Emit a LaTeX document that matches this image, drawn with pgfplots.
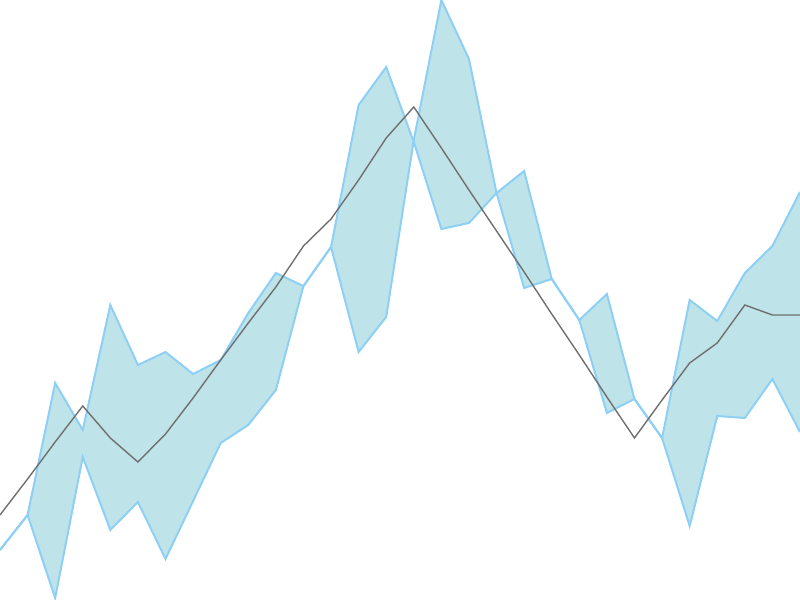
\documentclass[border=0pt]{standalone}
\usepackage{pgfplots}
\usepackage{pgfplotstable}
\pgfplotsset{compat=1.18}
\usepgfplotslibrary{fillbetween}

\definecolor{bandfill}{RGB}{190,228,233}
\definecolor{bandline}{RGB}{142,207,245}
\definecolor{midline}{RGB}{112,112,112}

% i, mid line, first band edge, second band edge
\pgfplotstableread{
i  mid  a    b
0  85   50   50
1  121  85   85
2  158  217  2
3  194  170  143
4  162  295  70
5  138  235  98
6  166  248  41
7  202  226  99
8  240  240  157
9  277  287  175
10 313  327  210
11 354  314  314
12 381  353  353
13 420  495  248
14 462  533  283
15 493  458  460
16 452  371  600
17 410  377  541
18 369  407  407
19 328  429  312
20 286  321  321
21 245  280  280
22 203  306  187
23 162  201  201
24 200  162  162
25 237  300  74
26 257  279  184
27 295  327  182
28 285  354  221
29 285  408  168
}\datatable

\begin{document}
\begin{tikzpicture}
\begin{axis}[
width=12cm,
height=9cm,
scale only axis,
hide axis,
xmin=0, xmax=29,
ymin=0, ymax=600,
clip=true,
]
\addplot[name path=A, color=bandline, line width=0.85pt] table[x=i, y=a] {\datatable};
\addplot[name path=B, color=bandline, line width=0.85pt] table[x=i, y=b] {\datatable};
\addplot[bandfill] fill between[of=A and B];
\addplot[color=midline, line width=0.6pt] table[x=i, y=mid] {\datatable};
\end{axis}
\pgfresetboundingbox
\useasboundingbox (current axis.south west) rectangle (current axis.north east);
\end{tikzpicture}
\end{document}
